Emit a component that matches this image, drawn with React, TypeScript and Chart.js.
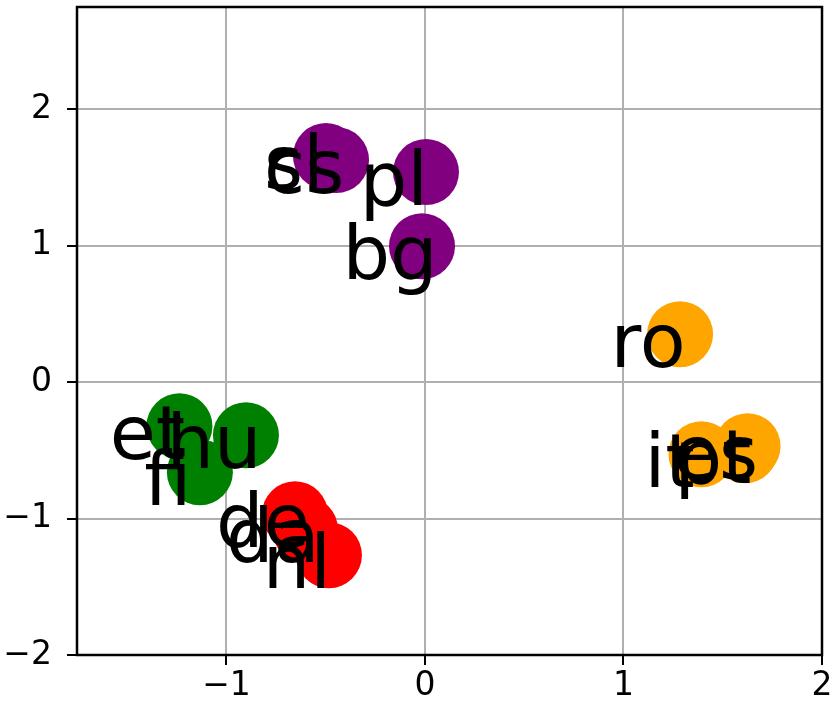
import { useEffect, useRef } from 'react';
import { Chart, registerables } from 'chart.js';

Chart.register(...registerables);

const pointLabels = ['et', 'hu', 'fi', 'de', 'da', 'nl', 'cs', 'sl', 'pl', 'bg', 'ro', 'it', 'pt', 'es'];
const xValues = [-1.237, -0.902, -1.134, -0.655, -0.605, -0.484, -0.448, -0.499, 0.005, -0.015, 1.285, 1.393, 1.612, 1.625];
const yValues = [-0.323, -0.389, -0.66, -0.968, -1.078, -1.268, 1.628, 1.657, 1.54, 0.997, 0.352, -0.528, -0.499, -0.469];
const groupOfPoint = [0, 0, 0, 1, 1, 1, 2, 2, 2, 2, 3, 3, 3, 3];
const groupColors = ['#008000', '#ff0000', '#800080', '#ffa500'];
const xTicks = [-1, 0, 1, 2];
const yTicks = [-2, -1, 0, 1, 2];
const xMin = -1.753;
const xMax = 2;
const yMin = -2;
const yMax = 2.75;

const fmt = (v: number) => (v < 0 ? '\u2212' + Math.abs(v) : String(v));

export default function App() {
  const ref = useRef<HTMLCanvasElement>(null);

  useEffect(() => {
    if (!ref.current) return;
    Chart.defaults.font.family = '"DejaVu Sans"';
    Chart.defaults.color = '#000';

    const framePlugin = {
      id: 'frame',
      afterDatasetsDraw(chart: any) {
        const { ctx, chartArea } = chart;
        ctx.save();
        ctx.strokeStyle = '#000';
        ctx.lineWidth = 2.5;
        ctx.strokeRect(chartArea.left, chartArea.top, chartArea.right - chartArea.left, chartArea.bottom - chartArea.top);
        ctx.restore();
      },
    };

    const labelPlugin = {
      id: 'pointText',
      afterDraw(chart: any) {
        const { ctx } = chart;
        const xs = chart.scales.x;
        const ys = chart.scales.y;
        ctx.save();
        ctx.fillStyle = '#000';
        ctx.font = '75px "DejaVu Sans"';
        ctx.textAlign = 'center';
        ctx.textBaseline = 'alphabetic';
        pointLabels.forEach((lab, i) => {
          const px = xs.getPixelForValue(xValues[i]);
          const py = ys.getPixelForValue(yValues[i]);
          ctx.fillText(lab, px - 32, py + 33);
        });
        ctx.restore();
      },
    };

    const chart = new Chart(ref.current, {
      type: 'scatter',
      data: {
        datasets: [
          {
            data: xValues.map((x, i) => ({ x, y: yValues[i] })),
            backgroundColor: groupOfPoint.map((g) => groupColors[g]),
            borderWidth: 0,
            pointRadius: 33,
            pointHoverRadius: 33,
          },
        ],
      },
      options: {
        animation: false,
        responsive: true,
        maintainAspectRatio: false,
        events: [],
        layout: { autoPadding: false, padding: { top: 7, right: 8, left: 0, bottom: 0 } },
        plugins: { legend: { display: false }, tooltip: { enabled: false } },
        scales: {
          x: {
            type: 'linear',
            min: xMin,
            max: xMax,
            afterBuildTicks: (scale: any) => {
              scale.ticks = xTicks.map((v) => ({ value: v }));
            },
            afterFit: (scale: any) => {
              scale.height = 52;
              scale.paddingLeft = 0;
              scale.paddingRight = 0;
            },
            border: { display: false },
            grid: {
              color: '#b0b0b0',
              lineWidth: 2,
              drawTicks: true,
              tickLength: 10,
              tickColor: '#000',
              tickWidth: 2,
            },
            ticks: {
              callback: (v: any) => fmt(Number(v)),
              font: { size: 33, lineHeight: 1 },
              color: '#000',
              padding: 5,
              maxRotation: 0,
              autoSkip: false,
            },
          },
          y: {
            type: 'linear',
            min: yMin,
            max: yMax,
            afterBuildTicks: (scale: any) => {
              scale.ticks = yTicks.map((v) => ({ value: v }));
            },
            afterFit: (scale: any) => {
              scale.width = 77;
              scale.paddingTop = 0;
              scale.paddingBottom = 0;
            },
            border: { display: false },
            grid: {
              color: '#b0b0b0',
              lineWidth: 2,
              drawTicks: true,
              tickLength: 10,
              tickColor: '#000',
              tickWidth: 2,
            },
            ticks: {
              callback: (v: any) => fmt(Number(v)),
              font: { size: 33, lineHeight: 1 },
              color: '#000',
              padding: 15,
              autoSkip: false,
            },
          },
        },
      },
      plugins: [framePlugin, labelPlugin],
    });

    return () => chart.destroy();
  }, []);

  return (
    <div style={{ position: 'fixed', left: 0, top: 0, width: 830, height: 707, background: '#fff' }}>
      <canvas ref={ref} />
    </div>
  );
}
